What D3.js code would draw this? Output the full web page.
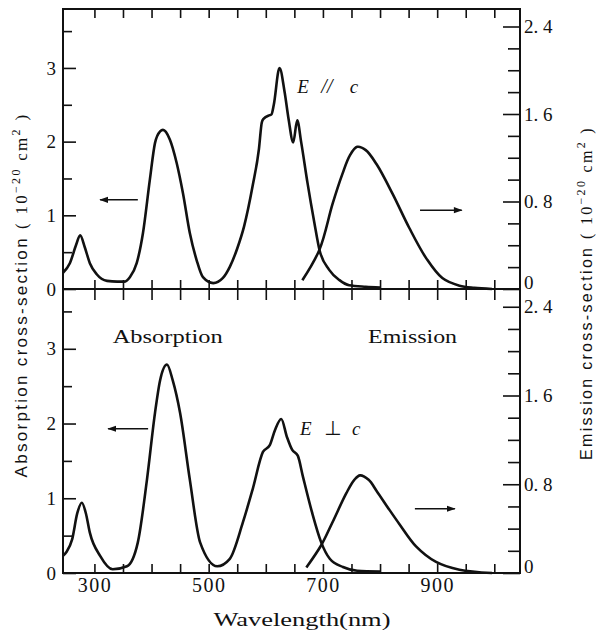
<!DOCTYPE html>
<html>
<head>
<meta charset="utf-8">
<script src="https://cdn.jsdelivr.net/npm/d3@7"></script>
<style>
body { margin: 0; background: #fff; }
svg { display: block; }
text { fill: #111; }
</style>
</head>
<body>
<svg id="vis" width="599" height="634"></svg>
<script>
const svg = d3.select('#vis');

// wavelength (nm) and cross-section
// E // c absorption (left axis) and emission (right axis)
const absParallel = [
    [245, 0.22], [257, 0.35], [268, 0.6], [275, 0.73], [283, 0.57], [292, 0.35], [304, 0.2],
    [322, 0.11], [340, 0.1], [352, 0.1], [362, 0.16], [374, 0.35], [385, 0.76], [397, 1.48],
    [406, 1.98], [415, 2.14], [420, 2.16], [432, 2.03], [444, 1.71], [455, 1.3], [467, 0.76],
    [479, 0.39], [490, 0.16], [508, 0.08], [525, 0.15], [537, 0.3], [550, 0.55], [562, 0.85],
    [577, 1.4], [588, 1.9], [593, 2.26], [596, 2.31], [607, 2.36], [610, 2.37], [614, 2.5],
    [624, 3.0], [633, 2.67], [640, 2.3], [648, 1.99], [655, 2.29], [662, 1.99], [673, 1.44],
    [685, 0.9], [694, 0.53], [711, 0.26], [729, 0.12], [746, 0.05], [775, 0.03], [800, 0.02]
];
const emiParallel = [
    [664, 0.08], [694, 0.36], [717, 0.78], [734, 1.05], [747, 1.22], [760, 1.3], [775, 1.27],
    [794, 1.14], [822, 0.87], [851, 0.56], [881, 0.28], [909, 0.1], [939, 0.03], [965, 0.01], [996, 0]
];
// E _|_ c absorption (left axis) and emission (right axis)
const absPerp = [
    [245, 0.23], [251, 0.28], [261, 0.45], [270, 0.8], [278, 0.94], [285, 0.8], [292, 0.54],
    [310, 0.23], [332, 0.05], [357, 0.09], [376, 0.41], [392, 1.25], [406, 2.14], [415, 2.58],
    [427, 2.79], [437, 2.58], [450, 2.14], [467, 1.25], [485, 0.41], [515, 0.09], [537, 0.19],
    [560, 0.68], [577, 1.12], [595, 1.62], [607, 1.71], [616, 1.91], [627, 2.06], [637, 1.82],
    [646, 1.65], [656, 1.57], [665, 1.29], [681, 0.81], [697, 0.41], [712, 0.19], [735, 0.08],
    [760, 0.03], [800, 0.02]
];
const emiPerp = [
    [671, 0.05], [697, 0.25], [717, 0.46], [741, 0.72], [755, 0.84], [765, 0.88], [780, 0.84],
    [794, 0.74], [815, 0.58], [834, 0.44], [863, 0.24], [898, 0.1], [939, 0.03], [996, 0]
];

const xMinorTicks = d3.range(300, 1001, 50);
const xTickLabels = [300, 500, 700, 900];
const leftMajor = [0, 1, 2, 3];
const leftMinor = [0.5, 1.5, 2.5, 3.5];
const rightMajor = [0, 0.8, 1.6, 2.4];
const rightMinor = [0.2, 0.4, 0.6, 1.0, 1.2, 1.4, 1.8, 2.0, 2.2];

// arrows: [panel, from nm, to nm, left-axis value]
const arrows = [
    [0, 376, 310, 1.21],
    [0, 870, 943, 1.07],
    [1, 394, 324, 1.93],
    [1, 861, 931, 0.86]
];

const LEFT = 63, RIGHT = 520, TOP = 9, MID = 289, BOTTOM = 573;

const x = d3.scaleLinear().domain([245, 1045]).range([LEFT, RIGHT]);

const panels = [
    {y0: TOP, y1: MID, abs: absParallel, emi: emiParallel},
    {y0: MID, y1: BOTTOM, abs: absPerp, emi: emiPerp}
];
panels.forEach(function (p) {
    p.yL = d3.scaleLinear().domain([0, 3.8]).range([p.y1, p.y0]);
    p.yR = d3.scaleLinear().domain([0, 2.56]).range([p.y1, p.y0]);
});

const serif = '"Liberation Serif", "DejaVu Serif", serif';
const sans = '"Liberation Sans", Arial, sans-serif';

function styleAxis(g) {
    g.select('.domain').remove();
    g.selectAll('line').attr('stroke', '#111').attr('stroke-width', 1.6);
    g.selectAll('text').attr('font-family', serif).attr('font-size', 19).attr('fill', '#111');
}

function rightFormat(d) {
    return d === 0 ? '0' : d3.format('.1f')(d).replace('.', '. ');
}

panels.forEach(function (p, i) {
    // left axis, ticks pointing in
    svg.append('g').attr('transform', 'translate(' + LEFT + ',0)')
        .call(d3.axisLeft(p.yL).tickValues(leftMajor).tickSize(-13).tickPadding(7).tickFormat(d3.format('d')))
        .call(styleAxis);
    svg.append('g').attr('transform', 'translate(' + LEFT + ',0)')
        .call(d3.axisLeft(p.yL).tickValues(leftMinor).tickSize(-9).tickFormat(''))
        .call(styleAxis);

    // right axis
    const ra = svg.append('g').attr('transform', 'translate(' + RIGHT + ',0)')
        .call(d3.axisRight(p.yR).tickValues(rightMajor).tickSize(-17).tickPadding(4).tickFormat(rightFormat))
        .call(styleAxis);
    // the zero label sits a little above the frame line
    ra.selectAll('.tick').filter(function (d) { return d === 0; })
        .select('text').attr('dy', '-0.05em');
    svg.append('g').attr('transform', 'translate(' + RIGHT + ',0)')
        .call(d3.axisRight(p.yR).tickValues(rightMinor).tickSize(-12).tickFormat(''))
        .call(styleAxis);

    const lineL = d3.line()
        .x(function (d) { return x(d[0]); })
        .y(function (d) { return p.yL(d[1]); })
        .curve(d3.curveMonotoneX);
    const lineR = d3.line()
        .x(function (d) { return x(d[0]); })
        .y(function (d) { return p.yR(d[1]); })
        .curve(d3.curveCatmullRom.alpha(0.5));

    svg.append('path').datum(p.abs)
        .attr('d', lineL)
        .attr('fill', 'none').attr('stroke', '#111').attr('stroke-width', 2.6)
        .attr('stroke-linejoin', 'round');
    svg.append('path').datum(p.emi)
        .attr('d', lineR)
        .attr('fill', 'none').attr('stroke', '#111').attr('stroke-width', 2.6)
        .attr('stroke-linejoin', 'round');
});

// x ticks: top frame, middle axis (both sides), bottom axis
svg.append('g').attr('transform', 'translate(0,' + TOP + ')')
    .call(d3.axisBottom(x).tickValues(xMinorTicks).tickSize(9).tickFormat(''))
    .call(styleAxis);
svg.append('g').attr('transform', 'translate(0,' + MID + ')')
    .call(d3.axisBottom(x).tickValues(xMinorTicks).tickSize(11).tickFormat(''))
    .call(styleAxis);
svg.append('g').attr('transform', 'translate(0,' + MID + ')')
    .call(d3.axisTop(x).tickValues(xMinorTicks).tickSize(9).tickFormat(''))
    .call(styleAxis);
svg.append('g').attr('transform', 'translate(0,' + BOTTOM + ')')
    .call(d3.axisTop(x).tickValues(xMinorTicks).tickSize(9).tickFormat(''))
    .call(styleAxis);
const xLab = svg.append('g').attr('transform', 'translate(0,' + BOTTOM + ')')
    .call(d3.axisBottom(x).tickValues(xTickLabels).tickSize(0).tickPadding(5).tickFormat(d3.format('d')))
    .call(styleAxis);
xLab.selectAll('text').attr('font-size', 20).attr('letter-spacing', 1.5);

// frame
svg.append('rect')
    .attr('x', LEFT).attr('y', TOP)
    .attr('width', RIGHT - LEFT).attr('height', BOTTOM - TOP)
    .attr('fill', 'none').attr('stroke', '#111').attr('stroke-width', 2);
svg.append('line')
    .attr('x1', LEFT).attr('x2', RIGHT).attr('y1', MID).attr('y2', MID)
    .attr('stroke', '#111').attr('stroke-width', 2);

// arrows
svg.append('defs').append('marker')
    .attr('id', 'head')
    .attr('viewBox', '0 -4 10 8')
    .attr('refX', 9).attr('refY', 0)
    .attr('markerUnits', 'userSpaceOnUse')
    .attr('markerWidth', 12).attr('markerHeight', 7)
    .attr('orient', 'auto')
    .append('path').attr('d', 'M0,-3.5L10,0L0,3.5Z').attr('fill', '#111');

arrows.forEach(function (a) {
    const p = panels[a[0]];
    svg.append('line')
        .attr('x1', x(a[1])).attr('x2', x(a[2]))
        .attr('y1', p.yL(a[3])).attr('y2', p.yL(a[3]))
        .attr('stroke', '#111').attr('stroke-width', 1.5)
        .attr('marker-end', 'url(#head)');
});

// panel labels
const bot = panels[1], topP = panels[0];
svg.append('text')
    .attr('x', x(332)).attr('y', bot.yL(3.08))
    .attr('font-family', serif).attr('font-size', 18)
    .attr('textLength', 110).attr('lengthAdjust', 'spacingAndGlyphs')
    .text('Absorption');
svg.append('text')
    .attr('x', x(779)).attr('y', bot.yL(3.08))
    .attr('font-family', serif).attr('font-size', 18)
    .attr('textLength', 89).attr('lengthAdjust', 'spacingAndGlyphs')
    .text('Emission');

function polLabel(p, v, xE, sym, xS, xC, symFont) {
    svg.append('text').attr('x', x(xE)).attr('y', p.yL(v))
        .attr('font-family', serif).attr('font-style', 'italic').attr('font-size', 19).text('E');
    svg.append('text').attr('x', x(xS)).attr('y', p.yL(v)).attr('text-anchor', 'middle')
        .attr('font-family', symFont).attr('font-style', 'italic').attr('font-size', 20).text(sym);
    svg.append('text').attr('x', x(xC)).attr('y', p.yL(v))
        .attr('font-family', serif).attr('font-style', 'italic').attr('font-size', 19).text('c');
}
polLabel(topP, 2.66, 655, '//', 707, 747, serif);
polLabel(bot, 1.85, 660, '\u22A5', 717, 751, '"DejaVu Sans", sans-serif');

// axis titles
function yTitle(tx, ty, name, len, size) {
    const t = svg.append('text')
        .attr('transform', 'translate(' + tx + ',' + ty + ') rotate(-90)')
        .attr('text-anchor', 'middle')
        .attr('font-family', sans).attr('font-size', size).attr('letter-spacing', len);
    t.append('tspan').text(name + ' ');
    t.append('tspan').attr('font-family', serif).text('( 10');
    t.append('tspan').attr('font-family', serif).attr('font-size', 12).attr('dy', -7).text('\u221220');
    t.append('tspan').attr('font-family', serif).attr('dy', 7).text(' cm');
    t.append('tspan').attr('font-family', serif).attr('font-size', 12).attr('dy', -7).text('2');
    t.append('tspan').attr('font-family', serif).attr('dy', 7).text(' )');
}
yTitle(27, 295, 'Absorption cross-section', 2.3, 17);
yTitle(592, 293, 'Emission cross-section', 2.3, 16);

svg.append('text')
    .attr('x', 302).attr('y', 626)
    .attr('text-anchor', 'middle')
    .attr('font-family', serif).attr('font-size', 18)
    .attr('textLength', 177).attr('lengthAdjust', 'spacingAndGlyphs')
    .text('Wavelength(nm)');
</script>
</body>
</html>
